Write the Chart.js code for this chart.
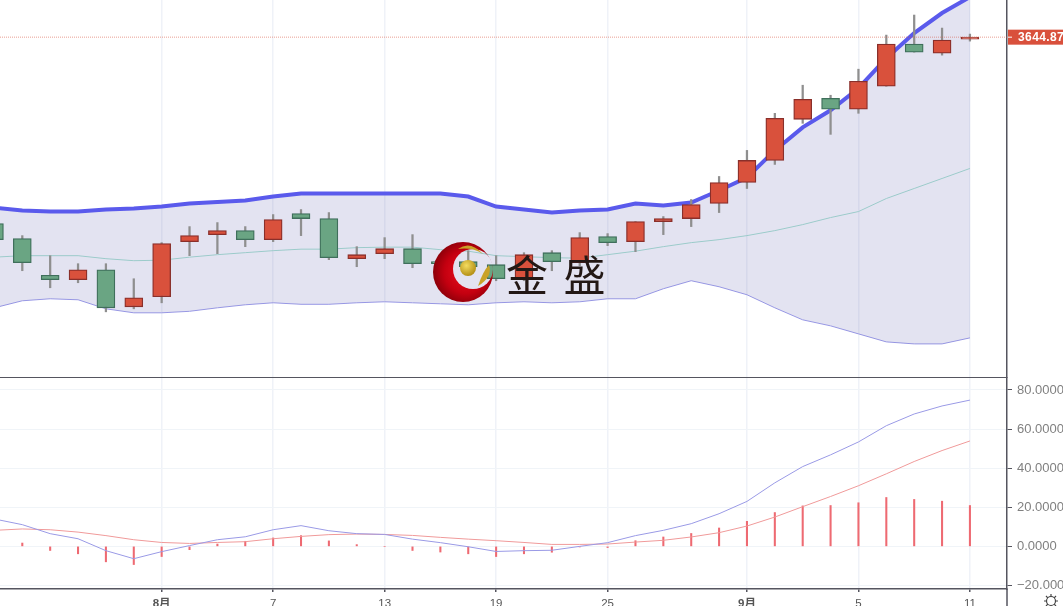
<!DOCTYPE html>
<html lang="zh">
<head>
  <meta charset="UTF-8">
  <title>K线图</title>
  <script src="https://cdn.jsdelivr.net/npm/chart.js@4"></script>
  <style>
    html, body { margin: 0; padding: 0; background: #fff; overflow: hidden; }
    #wrap { position: relative; width: 1063px; height: 606px; overflow: hidden; }
    canvas { position: absolute; left: 0; display: block; }
    #price-chart { top: 0; }
    #macd-chart { top: 378px; }
    #logo { position: absolute; left: 425px; top: 235px; }
    #brand { position: absolute; left: 506px; top: 245px; font: 42px "Noto Sans CJK SC"; line-height: 56px; color: #231815; letter-spacing: 3px; white-space: pre; }
    #gear { position: absolute; left: 1042px; top: 593px; }
  </style>
</head>
<body>
<div id="wrap">
  <canvas id="price-chart"></canvas>
  <canvas id="macd-chart"></canvas>
  <svg id="logo" width="76" height="76" viewBox="0 0 76 76">
    <defs>
      <radialGradient id="red" cx="0.55" cy="0.5" r="0.6">
        <stop offset="0" stop-color="#f01020"/>
        <stop offset="0.6" stop-color="#c40010"/>
        <stop offset="1" stop-color="#7d0008"/>
      </radialGradient>
      <radialGradient id="gold" cx="0.4" cy="0.35" r="0.7">
        <stop offset="0" stop-color="#f4dc60"/>
        <stop offset="1" stop-color="#b08a10"/>
      </radialGradient>
      <mask id="cut">
        <rect width="76" height="76" fill="#fff"/>
        <circle cx="48" cy="34" r="20" fill="#000"/>
      </mask>
    </defs>
    <circle cx="38" cy="37" r="30" fill="url(#red)" mask="url(#cut)"/>
    <circle cx="43" cy="33" r="8" fill="url(#gold)"/>
    <path d="M33 14 Q45 5 58 19 Q47 12 33 14Z" fill="#c9a227"/>
    <path d="M53 51 Q58 36 64 30 Q68 42 53 51Z" fill="#c9a227"/>
  </svg>
  <div id="brand">金 盛</div>
  <svg id="gear" width="18" height="17" viewBox="0 0 18 17">
    <circle cx="9" cy="8" r="4.5" fill="none" stroke="#444" stroke-width="1.2"/>
    <path d="M9 1V3.5M9 12.5V15M2 8H4.5M13.5 8H16M4 3L5.8 4.8M12.2 11.2L14 13M14 3L12.2 4.8M5.8 11.2L4 13" stroke="#444" stroke-width="1.2"/>
  </svg>
</div>
<script>
// index 0 and 1 sit left of the visible window
const categories = ['', '', '', '', '', '', '', '8月', '', '', '', '7', '', '', '', '13', '', '', '', '19', '', '', '', '25', '', '', '', '', '9月', '', '', '', '5', '', '', '', '11'];

const open =  [null, 3273, 3243, 3170, 3161, 3181, 3107, 3127, 3237, 3251, 3259, 3241, 3293, 3283, 3203, 3213, 3223, 3197, 3197, 3191, 3163, 3215, 3195, 3247, 3237, 3277, 3283, 3313, 3355, 3399, 3481, 3523, 3501, 3547, 3631, 3613, 3641];
const close = [null, 3241, 3195, 3161, 3181, 3105, 3125, 3233, 3249, 3259, 3241, 3281, 3283, 3205, 3211, 3223, 3193, 3193, 3187, 3163, 3211, 3197, 3245, 3235, 3277, 3283, 3311, 3355, 3399, 3483, 3521, 3501, 3557, 3631, 3615, 3639, 3644.87];
const high =  [null, 3283, 3249, 3209, 3193, 3193, 3163, 3235, 3267, 3275, 3267, 3291, 3301, 3295, 3227, 3245, 3251, 3209, 3219, 3209, 3215, 3219, 3255, 3253, 3277, 3287, 3321, 3367, 3419, 3493, 3549, 3529, 3581, 3649, 3689, 3663, 3651];
const low =   [null, 3229, 3179, 3145, 3155, 3097, 3103, 3115, 3209, 3213, 3227, 3237, 3249, 3201, 3187, 3203, 3185, 3183, 3175, 3159, 3159, 3179, 3189, 3229, 3217, 3251, 3267, 3295, 3343, 3391, 3473, 3451, 3493, 3547, 3615, 3609, 3637];

const bollUpper = [3307, 3305, 3299, 3297, 3297, 3301, 3303, 3307, 3313, 3316, 3319, 3327, 3333, 3333, 3333, 3333, 3333, 3333, 3327, 3307, 3301, 3295, 3299, 3301, 3313, 3309, 3315, 3339, 3365, 3419, 3465, 3499, 3543, 3603, 3653, 3693, 3725];
const bollMid =   [3205, 3206, 3209, 3209, 3209, 3203, 3199, 3200, 3206, 3211, 3215, 3219, 3222, 3222, 3225, 3226, 3226, 3221, 3218, 3209, 3207, 3205, 3204, 3211, 3218, 3227, 3235, 3241, 3249, 3259, 3271, 3285, 3297, 3323, 3343, 3363, 3383];
const bollLower = [3097, 3105, 3119, 3123, 3121, 3103, 3095, 3095, 3098, 3105, 3111, 3115, 3112, 3112, 3115, 3117, 3115, 3113, 3111, 3115, 3117, 3115, 3117, 3123, 3123, 3143, 3159, 3147, 3131, 3105, 3081, 3069, 3053, 3037, 3033, 3033, 3045];

const dif =  [16, 14, 11.1, 6.5, 3.9, -2.2, -6.3, -2.7, 0.4, 3.4, 4.9, 8.5, 10.6, 8, 6.5, 6.1, 3.7, 1.9, -0.2, -2.6, -2.2, -2, 0, 1.9, 5.5, 8.2, 11.6, 16.7, 23, 32.5, 40.8, 46.8, 53.4, 61.7, 67.7, 71.8, 74.8];
const dea =  [8, 8.2, 8.9, 8.5, 7.3, 5.5, 3.4, 2, 1.5, 2, 2.4, 3.9, 5.1, 6, 6.3, 6.1, 5.6, 4.6, 3.7, 2.9, 2, 1, 1, 1.2, 2.2, 3.1, 4.8, 7, 10.4, 15, 20.3, 25.5, 31, 37.1, 43.4, 49, 53.9];
const hist = [null, null, 1.7, -2.1, -3.8, -7.9, -9.3, -5.2, -1.7, 1.2, 2.6, 4.3, 5.5, 2.8, 0.9, 0, -2.1, -2.9, -3.8, -5.2, -3.8, -3, -0.3, -0.6, 2.9, 4.8, 6.6, 9.4, 12.8, 17.3, 20.7, 20.9, 22.3, 25, 24, 23.1, 20.9];

const macdTicks = [-20, 0, 20, 40, 60, 80];
const lastPrice = 3644.87;

const UP = '#d9513c', UP_EDGE = '#8a2f2a', DOWN = '#6aa583', DOWN_EDGE = '#3f6f5b';
const GRID = '#eff2f8';
const AXIS = '#55555f';
const xMin = 1.2, xMax = 37.33;
const AXIS_W = 56;

const series = arr => arr.map((y, i) => ({ x: i, y }));
const range = (a, b) => a.map((v, i) => ({ x: i, y: v === null ? null : [v, b[i]] }));

function lineSet(data, color, width, order) {
  return { type: 'line', data: series(data), borderColor: color, borderWidth: width, pointRadius: 0, tension: 0, fill: false, order };
}

function xAxis(showLabels, height) {
  return {
    type: 'linear', min: xMin, max: xMax, offset: false,
    afterBuildTicks: s => {
      s.ticks = categories.map((c, i) => ({ value: i, label: c })).filter(t => t.label).map(t => ({ value: t.value }));
    },
    afterFit: s => { s.height = height; s.paddingLeft = 0; s.paddingRight = 0; },
    border: { color: AXIS, width: 1.5 },
    grid: { offset: false, color: GRID, lineWidth: 1.5, drawTicks: showLabels, tickLength: 3, tickColor: AXIS },
    ticks: {
      display: showLabels, autoSkip: false, maxRotation: 0, padding: 5, color: '#555',
      font: c => ({ family: 'Arial, "Liberation Sans", "Noto Sans CJK SC"', size: 11.5, weight: c.tick && categories[c.tick.value].includes('月') ? 'bold' : 'normal' }),
      callback: v => categories[v]
    }
  };
}

const commonOptions = {
  responsive: false, animation: false, events: [],
  layout: { padding: 0 },
  plugins: { legend: { display: false }, tooltip: { enabled: false } }
};

// dotted last price line and the red price tag on the axis
const priceTag = {
  id: 'priceTag',
  afterDraw(chart) {
    const { ctx, chartArea, scales } = chart;
    const y = scales.y.getPixelForValue(lastPrice);
    ctx.save();
    ctx.strokeStyle = 'rgba(217,81,60,0.55)';
    ctx.setLineDash([1, 1]);
    ctx.beginPath();
    ctx.moveTo(chartArea.left, y);
    ctx.lineTo(chartArea.right, y);
    ctx.stroke();
    ctx.setLineDash([]);
    ctx.fillStyle = '#d9503c';
    ctx.fillRect(chartArea.right + 1, y - 7.5, AXIS_W, 15);
    ctx.fillStyle = '#fff';
    ctx.fillRect(chartArea.right + 1, y - 0.5, 4, 1);
    ctx.font = 'bold 12px Arial, "Liberation Sans"';
    ctx.letterSpacing = '0.4px';
    ctx.textBaseline = 'middle';
    ctx.fillText(lastPrice.toFixed(2), chartArea.right + 11, y + 0.5);
    ctx.restore();
  }
};

// the right hand axis line carries on below the date axis
const axisTail = {
  id: 'axisTail',
  afterDraw(chart) {
    const { ctx, chartArea, height } = chart;
    ctx.save();
    ctx.strokeStyle = AXIS;
    ctx.lineWidth = 1.5;
    ctx.beginPath();
    ctx.moveTo(chartArea.right, chartArea.bottom);
    ctx.lineTo(chartArea.right, height);
    ctx.stroke();
    ctx.restore();
  }
};

const priceCanvas = document.getElementById('price-chart');
priceCanvas.width = 1063; priceCanvas.height = 378;
priceCanvas.style.width = '1063px'; priceCanvas.style.height = '378px';
new Chart(priceCanvas, {
  type: 'bar',
  data: {
    datasets: [
      { type: 'bar', grouped: false, data: range(low, high), barThickness: 1.6, backgroundColor: '#8f8f8f', borderWidth: 0, order: 2 },
      { type: 'bar', grouped: false, data: range(open, close), barThickness: 18,
        backgroundColor: close.map((c, i) => c >= open[i] ? UP : DOWN),
        borderColor: close.map((c, i) => c >= open[i] ? UP_EDGE : DOWN_EDGE),
        borderWidth: 1.3, borderSkipped: false, order: 1 },
      Object.assign(lineSet(bollUpper, '#5a5aec', 4, 3), { fill: { target: 4 }, backgroundColor: 'rgba(100,100,180,0.18)' }),
      lineSet(bollMid, '#a8e2d0', 1, 3),
      lineSet(bollLower, '#9c9ce8', 1, 3)
    ]
  },
  options: Object.assign({}, commonOptions, {
    scales: {
      x: xAxis(false, 0),
      y: {
        position: 'right', min: 2965, max: 3719,
        afterFit: s => { s.width = AXIS_W; s.paddingTop = 0; s.paddingBottom = 0; },
        border: { color: AXIS, width: 1.5 },
        grid: { display: false },
        ticks: { display: false }
      }
    }
  }),
  plugins: [priceTag]
});

const macdCanvas = document.getElementById('macd-chart');
macdCanvas.width = 1063; macdCanvas.height = 228;
macdCanvas.style.width = '1063px'; macdCanvas.style.height = '228px';
new Chart(macdCanvas, {
  type: 'bar',
  data: {
    datasets: [
      { type: 'bar', data: series(hist), barThickness: 1.4, backgroundColor: '#ee6a72', borderWidth: 0, order: 2 },
      lineSet(dif, '#9a9ae6', 1, 1),
      lineSet(dea, '#f09a9a', 1, 1)
    ]
  },
  options: Object.assign({}, commonOptions, {
    scales: {
      x: xAxis(true, 17),
      y: {
        position: 'right', min: -21.8, max: 86.1,
        afterBuildTicks: s => { s.ticks = macdTicks.map(value => ({ value })); },
        afterFit: s => { s.width = AXIS_W; s.paddingTop = 0; s.paddingBottom = 0; },
        border: { color: AXIS, width: 1.5 },
        grid: { color: '#f0f4f8', tickColor: AXIS, tickLength: 5, tickWidth: 1 },
        ticks: {
          autoSkip: false, crossAlign: 'near', padding: 5, color: '#808080',
          font: { family: 'Arial, "Liberation Sans"', size: 13 },
          callback: v => (v < 0 ? '\u2212' + Math.abs(v).toFixed(4) : v.toFixed(4))
        }
      }
    }
  }),
  plugins: [axisTail]
});
</script>
</body>
</html>
